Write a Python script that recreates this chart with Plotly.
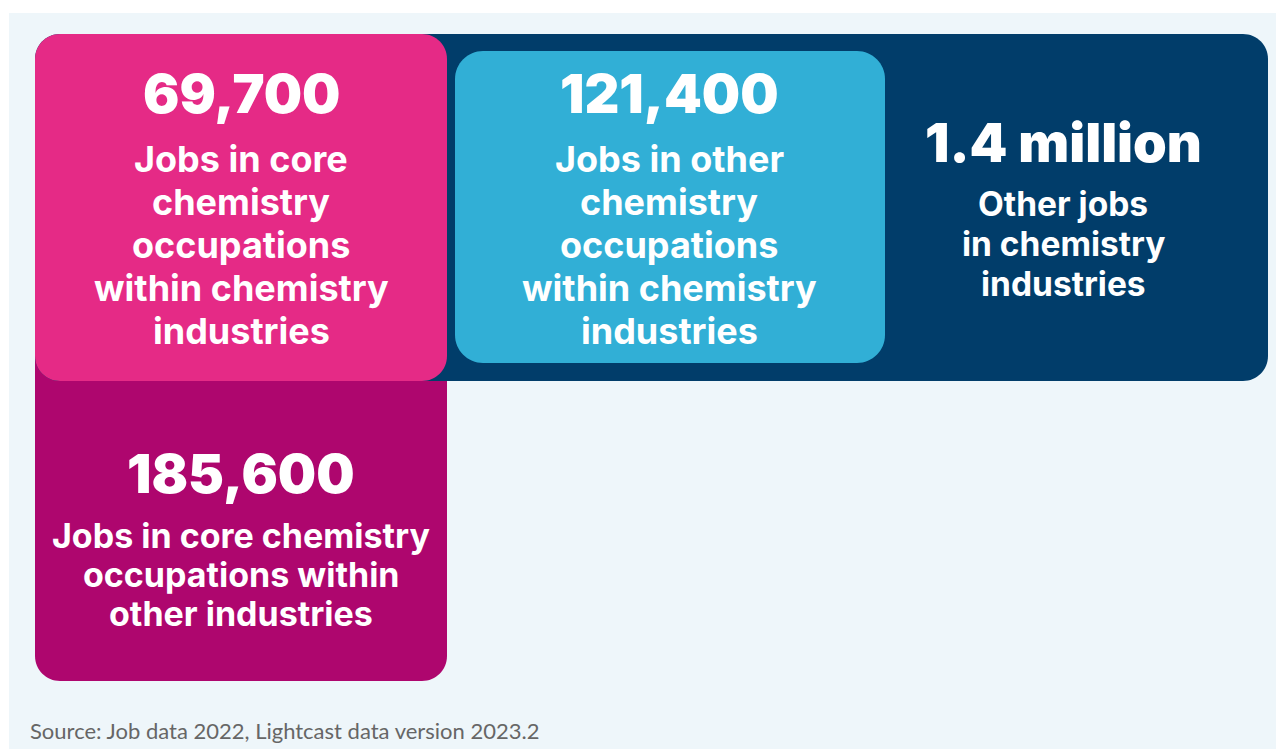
import plotly.graph_objects as go

# Headline figures and their descriptions
figures = ["69,700", "121,400", "1.4 million", "185,600"]
labels = [
    ["Jobs in core", "chemistry", "occupations", "within chemistry", "industries"],
    ["Jobs in other", "chemistry", "occupations", "within chemistry", "industries"],
    ["Other jobs", "in chemistry", "industries"],
    ["Jobs in core chemistry", "occupations within", "other industries"],
]
colors = ["#E52A86", "#31AFD6", "#013D6A", "#AE066E"]
source = "Source: Job data 2022, Lightcast data version 2023.2"

# page is 1284x749 but the html body has an 8px margin
OFF = 8
W, H = 1284 - OFF, 749 - OFF
FONT = "Inter"


def rounded_rect(x0, y0, x1, y1, r, corners=(True, True, True, True)):
    """SVG path of a rectangle in page pixels; corners = (top-left, top-right, bottom-right, bottom-left)"""
    x0, y0, x1, y1 = x0 - OFF, y0 - OFF, x1 - OFF, y1 - OFF
    k = 0.5523 * r
    tl, tr, br, bl = [r if c else 0 for c in corners]
    ktl, ktr, kbr, kbl = [k if c else 0 for c in corners]
    return (
        f"M {x0 + tl},{y0} L {x1 - tr},{y0} "
        f"C {x1 - tr + ktr},{y0} {x1},{y0 + tr - ktr} {x1},{y0 + tr} "
        f"L {x1},{y1 - br} "
        f"C {x1},{y1 - br + kbr} {x1 - br + kbr},{y1} {x1 - br},{y1} "
        f"L {x0 + bl},{y1} "
        f"C {x0 + bl - kbl},{y1} {x0},{y1 - bl + kbl} {x0},{y1 - bl} "
        f"L {x0},{y0 + tl} "
        f"C {x0},{y0 + tl - ktl} {x0 + tl - ktl},{y0} {x0 + tl},{y0} Z"
    )


fig = go.Figure()

shapes = [
    # light panel
    dict(type="rect", x0=9 - OFF, y0=13 - OFF, x1=W, y1=H, fillcolor="#EEF6FA",
         line_width=0, layer="below"),
    # magenta lower box (top hidden behind pink)
    dict(type="path", path=rounded_rect(35, 330, 447, 681, 25, (False, False, True, True)),
         fillcolor=colors[3], line_width=0),
    # navy wide box
    dict(type="path", path=rounded_rect(35, 34, 1268, 381, 25),
         fillcolor=colors[2], line_width=0),
    # pink box
    dict(type="path", path=rounded_rect(35, 34, 447, 381, 25),
         fillcolor=colors[0], line_width=0),
    # cyan box
    dict(type="path", path=rounded_rect(455, 51, 885, 363, 28),
         fillcolor=colors[1], line_width=0),
]

# x centre, number y, first label line y, line step, label size (page pixels)
spots = [
    (241, 93, 159, 43, 36),
    (669, 93, 159, 43, 36),
    (1063, 142, 204, 40, 33.5),
    (241, 473, 535, 39, 34),
]

annotations = []
for fig_text, lab, (cx, ny, ly, step, lsize) in zip(figures, labels, spots):
    annotations.append(dict(
        x=cx - OFF, y=ny - OFF, text=fig_text, showarrow=False,
        xanchor="center", yanchor="middle",
        font=dict(family=FONT, size=54, color="white", weight=900),
    ))
    for i, line in enumerate(lab):
        annotations.append(dict(
            x=cx - OFF, y=ly + i * step - OFF, text=line, showarrow=False,
            xanchor="center", yanchor="middle",
            font=dict(family=FONT, size=lsize, color="white", weight=700),
        ))

annotations.append(dict(
    x=28 - OFF, y=730 - OFF, text=source, showarrow=False, xanchor="left", yanchor="middle",
    font=dict(family="Lato", size=22, color="#666666", weight=400),
))

fig.update_layout(
    width=W,
    height=H,
    margin=dict(l=0, r=0, t=0, b=0),
    paper_bgcolor="white",
    plot_bgcolor="white",
    shapes=shapes,
    annotations=annotations,
    xaxis=dict(range=[0, W], visible=False, fixedrange=True),
    yaxis=dict(range=[H, 0], visible=False, fixedrange=True),
    showlegend=False,
)

fig.write_html("out.html", config={"displayModeBar": False})
